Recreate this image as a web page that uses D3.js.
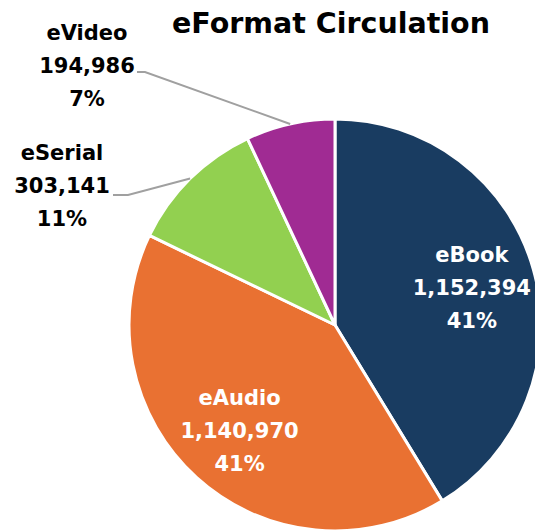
<!DOCTYPE html>
<html>
<head>
<meta charset="utf-8">
<script src="https://cdn.jsdelivr.net/npm/d3@7"></script>
<style>
  body { margin: 0; background: #fff; }
  text { font-family: "DejaVu Sans", sans-serif; font-weight: bold; }
</style>
</head>
<body>
<svg id="chart" width="535" height="531"></svg>
<script>
// data
const formats = ["eBook", "eAudio", "eSerial", "eVideo"];
const circulation = [1152394, 1140970, 303141, 194986];
const percents = ["41%", "41%", "11%", "7%"];
const colors = ["#193c61", "#e97132", "#92d050", "#a02b93"];

const svg = d3.select("#chart");
const cx = 335, cy = 325, radius = 206;

// title
svg.append("text")
    .attr("x", 331)
    .attr("y", 33)
    .attr("text-anchor", "middle")
    .style("font-size", "28.5px")
    .style("fill", "#000")
    .text("eFormat Circulation");

const pie = d3.pie().sort(null).value(d => d.value);
const arcs = pie(formats.map((f, i) => ({ name: f, value: circulation[i], pct: percents[i], color: colors[i] })));

const arc = d3.arc().innerRadius(0).outerRadius(radius);
const labelArc = d3.arc().innerRadius(radius * 0.69).outerRadius(radius * 0.69);

const g = svg.append("g").attr("transform", `translate(${cx},${cy})`);

g.selectAll("path")
    .data(arcs)
    .join("path")
    .attr("d", arc)
    .style("fill", d => d.data.color)
    .style("stroke", "#fff")
    .style("stroke-width", 3)
    .style("stroke-linejoin", "round");

const fmt = d3.format(",");
const lineGap = 33;

// inside labels (big slices)
arcs.slice(0, 2).forEach(d => {
    const [x, y] = labelArc.centroid(d);
    const lines = [d.data.name, fmt(d.data.value), d.data.pct];
    lines.forEach((t, k) => {
        g.append("text")
            .attr("x", x)
            .attr("y", y + 8 + (k - 1) * lineGap)
            .attr("text-anchor", "middle")
            .style("font-size", "21px")
            .style("fill", "#fff")
            .text(t);
    });
});

// outside labels with leader lines (small slices)
const outside = {
    eSerial: { tx: 62, ty: 193, elbow: [128, 195], end: [113, 195] },
    eVideo: { tx: 87, ty: 73, elbow: [145, 72], end: [137, 72] }
};

arcs.slice(2).forEach(d => {
    const o = outside[d.data.name];
    const mid = (d.startAngle + d.endAngle) / 2;
    const sx = cx + radius * Math.sin(mid);
    const sy = cy - radius * Math.cos(mid);
    svg.append("polyline")
        .attr("points", [[sx, sy], o.elbow, o.end].map(p => p.join(",")).join(" "))
        .style("fill", "none")
        .style("stroke", "#a0a0a0")
        .style("stroke-width", 2);
    const lines = [d.data.name, fmt(d.data.value), d.data.pct];
    lines.forEach((t, k) => {
        svg.append("text")
            .attr("x", o.tx)
            .attr("y", o.ty + (k - 1) * lineGap)
            .attr("text-anchor", "middle")
            .style("font-size", "21px")
            .style("fill", "#000")
            .text(t);
    });
});
</script>
</body>
</html>
